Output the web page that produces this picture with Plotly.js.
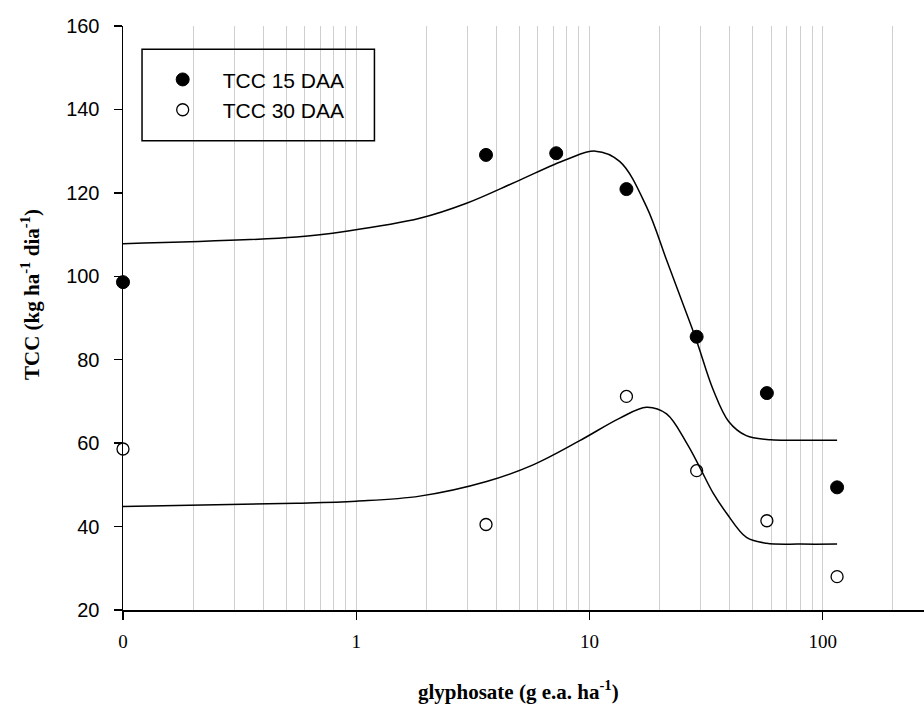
<!DOCTYPE html>
<html>
<head>
<meta charset="utf-8">
<script src="https://cdn.plot.ly/plotly-3.0.1.min.js"></script>
<style>
html,body{margin:0;padding:0;overflow:hidden;background:#fff;}
#chart{width:1076px;height:711px;}
</style>
</head>
<body>
<div id="chart"></div>
<script>
// ---- data ----
const doseLabels = ['0', '3.6', '7.2', '14.4', '28.8', '57.6', '115.2'];
const doseAxis = [0.1, 3.6, 7.2, 14.4, 28.8, 57.6, 115.2]; // 0 dose shown at 0.1 on log axis
const tcc15 = [98.6, 129.1, 129.5, 120.9, 85.5, 72.0, 49.4];
const tcc30 = [58.6, 40.5, null, 71.2, 53.4, 41.4, 28.0];

const fit15X = [0.1, 0.554, 0.908, 1.872, 2.97, 4.86, 7.97, 10.6, 13.5, 17.55, 21.4, 24.8, 28.8, 33.9, 39.5, 47.0, 60.0, 80.0, 115.2];
const fit15Y = [107.8, 109.4, 110.8, 113.9, 117.5, 122.7, 128.0, 130.0, 127.5, 116.7, 103.9, 94.3, 84.5, 72.8, 65.2, 61.8, 60.8, 60.7, 60.7];

const fit30X = [0.1, 0.554, 1.0, 1.872, 3.62, 5.73, 9.08, 13.5, 17.55, 21.4, 26.1, 29.7, 33.9, 38.7, 47.1, 57.4, 80.0, 115.2];
const fit30Y = [44.8, 45.6, 46.1, 47.3, 50.8, 54.8, 60.6, 66.0, 68.6, 67.0, 60.0, 54.2, 48.0, 43.2, 37.4, 36.0, 35.8, 35.8];

const xTickVals = [0.1, 1, 10, 100];
const xTickText = ['0', '1', '10', '100'];
const yTickVals = [20, 40, 60, 80, 100, 120, 140, 160];

const traces = [
  {x: fit15X, y: fit15Y, mode: 'lines', line: {color: '#000', width: 1.5, shape: 'spline', smoothing: 1}, showlegend: false, hoverinfo: 'skip'},
  {x: fit30X, y: fit30Y, mode: 'lines', line: {color: '#000', width: 1.5, shape: 'spline', smoothing: 1}, showlegend: false, hoverinfo: 'skip'},
  {x: doseAxis, y: tcc15, name: 'TCC 15 DAA', mode: 'markers', text: doseLabels,
   marker: {symbol: 'circle', size: 13, color: '#000', line: {color: '#000', width: 1}}, cliponaxis: false},
  {x: doseAxis, y: tcc30, name: 'TCC 30 DAA', mode: 'markers', text: doseLabels,
   marker: {symbol: 'circle-open', size: 12, color: '#000', line: {color: '#000', width: 1.3}}, cliponaxis: false}
];

const layout = {
  width: 1076, height: 711,
  margin: {l: 123, r: 20, t: 26, b: 101},
  paper_bgcolor: '#fff', plot_bgcolor: '#fff',
  showlegend: true,
  legend: {x: 0.0211, xanchor: 'left', y: 0.943, yanchor: 'top', bgcolor: 'rgba(0,0,0,0)', borderwidth: 0,
           itemwidth: 70, font: {family: 'Liberation Sans, Arial, sans-serif', size: 21, color: '#000'}},
  xaxis: {
    type: 'log', range: [-1, 3], showgrid: false, zeroline: false,
    showline: true, linecolor: '#000', linewidth: 1.5, mirror: false,
    ticks: 'outside', ticklen: 8, tickwidth: 1.3, tickcolor: '#000',
    tickvals: xTickVals, ticktext: xTickText, ticklabelstandoff: 6,
    tickfont: {family: 'Liberation Serif, Times New Roman, serif', size: 19, color: '#000'},
    minor: {dtick: 'D1', showgrid: true, gridcolor: '#cfcfcf', gridwidth: 1, ticks: ''}
  },
  yaxis: {
    range: [20, 160], showgrid: false, zeroline: false,
    showline: true, linecolor: '#000', linewidth: 1.5,
    ticks: 'outside', ticklen: 8, tickwidth: 1.3, tickcolor: '#000',
    tickvals: yTickVals, ticklabelstandoff: 10,
    tickfont: {family: 'Liberation Sans, Arial, sans-serif', size: 20, color: '#000'}
  },
  shapes: [
    {type: 'rect', xref: 'paper', yref: 'paper', x0: 0.0204, x1: 0.2695, y0: 0.8036, y1: 0.9601,
     line: {color: '#000', width: 1.5}, fillcolor: 'rgba(0,0,0,0)'}
  ],
  annotations: [
    {xref: 'paper', yref: 'paper', x: (518 - 123) / 933, y: (610 - 690) / 584, xanchor: 'center', yanchor: 'middle', showarrow: false,
     text: '<b>glyphosate (g e.a. ha<sup>-1</sup>)</b>',
     font: {family: 'Liberation Serif, Times New Roman, serif', size: 21, color: '#000'}},
    {xref: 'paper', yref: 'paper', x: (30 - 123) / 933, y: (610 - 295) / 584, xanchor: 'center', yanchor: 'middle', showarrow: false, textangle: -90,
     text: '<b>TCC (kg ha<sup>-1</sup> dia<sup>-1</sup>)</b>',
     font: {family: 'Liberation Serif, Times New Roman, serif', size: 21, color: '#000'}}
  ]
};

Plotly.newPlot('chart', traces, layout, {displayModeBar: false, staticPlot: true});
</script>
</body>
</html>
